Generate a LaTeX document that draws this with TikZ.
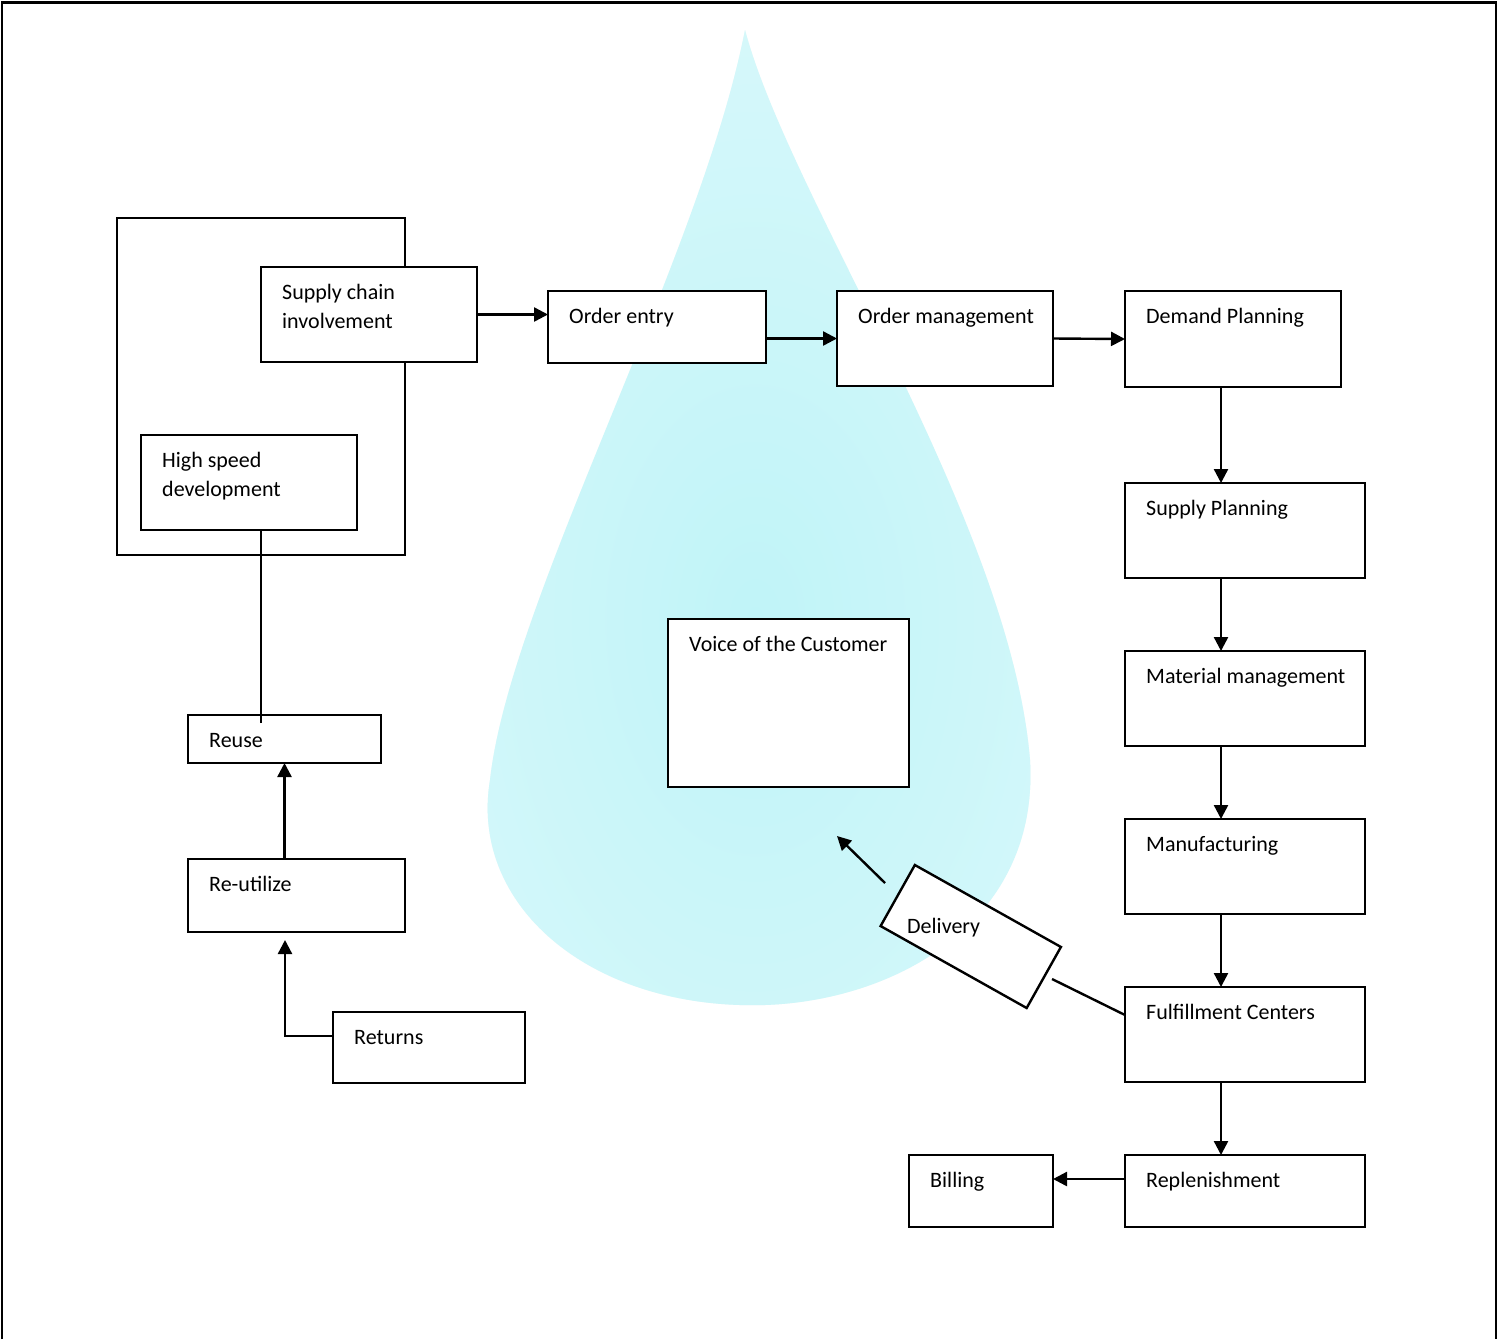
\documentclass[tikz,border=0pt]{standalone}
\usepackage{fontspec}
\setmainfont{Carlito}
\usetikzlibrary{arrows.meta}
\definecolor{dropcore}{RGB}{192,244,248}
\definecolor{dropedge}{RGB}{232,251,252}

% box: name, x1, y1, x2, y2, label
\newcommand\flowbox[6]{%
  \node[box, minimum width={#4-#2}, minimum height={#5-#3}] (#1) at ({(#2+#4)/2},{(#3+#5)/2}) {};
  \node[lbl] (#1-text) at ({#2+21},{#3+32}) {#6};}
\newcommand\twolines[2]{\vtop{\hbox{#1}\hbox{#2}}}

\begin{document}
\begin{tikzpicture}[x=1pt,y=-1pt,
  box/.style={draw, line width=2.4pt, fill=white, inner sep=0pt, outer sep=0pt},
  lbl/.style={anchor=base west, inner sep=0pt, font=\fontsize{22}{29}\selectfont},
  link/.style={line width=2.4pt},
  arr/.style={link, -{Triangle[length=14pt,width=14pt]}}]

\useasboundingbox (0,0) rectangle (1498,1339);
\fill[white] (0,0) rectangle (1498,1339);

% soft background emblem
\begin{scope}
  \clip (745,30) .. controls (790,200) and (1010,520) .. (1030,760)
    .. controls (1040,930) and (880,1010) .. (740,1005)
    .. controls (580,1000) and (470,900) .. (490,780)
    .. controls (510,600) and (700,260) .. (745,30) -- cycle;
  \fill[dropedge] (0,0) rectangle (1498,1339);
  \shade[inner color=dropcore, outer color=dropedge] (755,620) ellipse [x radius=700, y radius=1100];
\end{scope}

% page frame
\draw[line width=2.4pt] (2,1339) -- (2,2.5) -- (1496,2.5) -- (1496,1339);
\draw[line width=3.5pt] (1,2.5) -- (1497,2.5);

% grouping frame around the development boxes
\draw[line width=2.4pt] (117,218) rectangle (405,555);

\flowbox{scm}{261}{267}{477}{362}{\twolines{Supply chain}{involvement}}
\flowbox{oe}{548}{291}{766}{363}{Order entry}
\flowbox{om}{837}{291}{1053}{386}{Order management}
\flowbox{dp}{1125}{291}{1341}{387}{Demand Planning}
\flowbox{sp}{1125}{483}{1365}{578}{Supply Planning}
\flowbox{mm}{1125}{651}{1365}{746}{Material management}
\flowbox{mf}{1125}{819}{1365}{914}{Manufacturing}
\flowbox{fc}{1125}{987}{1365}{1082}{Fulfillment Centers}
\flowbox{rp}{1125}{1155}{1365}{1227}{Replenishment}
\flowbox{bill}{909}{1155}{1053}{1227}{Billing}
\flowbox{voc}{668}{619}{909}{787}{Voice of the Customer}
\flowbox{hsd}{141}{435}{357}{530}{\twolines{High speed}{development}}
\flowbox{reuse}{188}{715}{381}{763}{Reuse}
\flowbox{ru}{188}{859}{405}{932}{Re-utilize}
\flowbox{ret}{333}{1012}{525}{1083}{Returns}

% tilted delivery box with upright label
\node[box, rotate=-29.3, minimum width=167.5, minimum height=70] (dlv) at (970.75,936.5) {};
\node[lbl] (dlv-text) at (907,933) {Delivery};

% main flow
\coordinate (spine) at (1221,0);
\draw[arr] (scm.east) -- (scm.east -| oe.west);
\draw[arr] (om.west -| oe.east) -- (om.west);
\draw[arr] (om.east) -- (dp.west);
\draw[arr] (spine |- dp.south) -- (spine |- sp.north);
\draw[arr] (spine |- sp.south) -- (spine |- mm.north);
\draw[arr] (spine |- mm.south) -- (spine |- mf.north);
\draw[arr] (spine |- mf.south) -- (spine |- fc.north);
\draw[arr] (spine |- fc.south) -- (spine |- rp.north);
\draw[arr] ([yshift=12pt]rp.west) -- ([yshift=12pt]rp.west -| bill.east);

% delivery branch
\coordinate (dlv-tail) at (1052,979);
\coordinate (dlv-out) at (885,883);
\coordinate (voc-in) at (837,836);
\draw[link] ([yshift=19.5pt]fc.west) -- (dlv-tail);
\draw[arr] (dlv-out) -- (voc-in);

% return loop
\coordinate (ret-bend) at (285,1036);
\coordinate (ru-in) at (285,940);
\coordinate (reuse-top) at (261,723);
\draw[arr] (ret.west |- ret-bend) -- (ret-bend) -- (ru-in);
\draw[arr] (reuse.south |- ru.north) -- (reuse.south);
\draw[link] (reuse-top) -- (reuse-top |- hsd.south);
\end{tikzpicture}
\end{document}
